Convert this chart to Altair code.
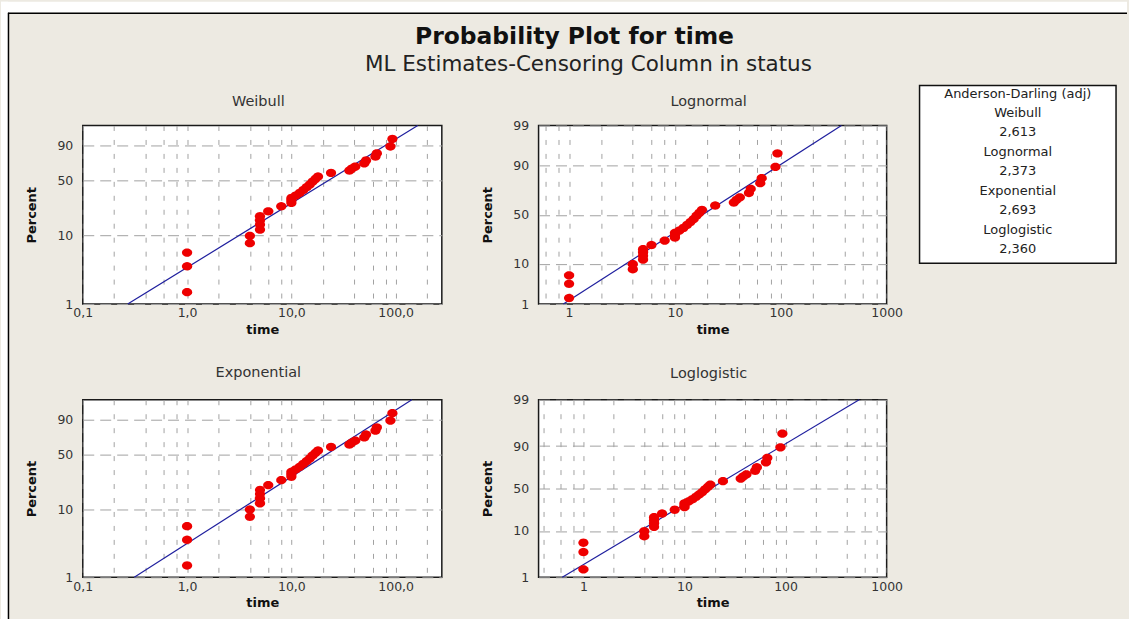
import math
from statistics import NormalDist

import altair as alt
import pandas as pd

# ---------------------------------------------------------------- data
# observed failure times and their plotting positions (percent)
time = [1, 1, 1, 4, 4, 5, 5, 5, 5, 6, 8, 10, 10, 10, 11, 12, 13, 14, 15, 16,
        17, 18, 24, 36, 38, 41, 50, 52, 64, 66, 89, 93]
percent = [1.5, 3.6, 5.7, 7.8, 9.9, 12.1, 14.2, 16.3, 18.5, 21.5, 25.0, 27.6,
           29.7, 31.8, 34.0, 36.5, 39.5, 42.5, 45.5, 49.0, 52.0, 55.0, 59.5,
           62.5, 65.0, 67.5, 71.5, 75.0, 79.5, 83.0, 89.4, 94.5]

dist_names = ["Weibull", "Lognormal", "Exponential", "Loglogistic"]
ad_values = [2.613, 2.373, 2.693, 2.360]

# ML estimates behind the fitted lines
weibull_fit = {"shape": 0.957, "scale": 33.0}
lognormal_fit = {"loc": 2.90, "scale": 1.30}
exponential_fit = {"mean": 31.0}
loglogistic_fit = {"loc": 2.90, "scale": 0.736}
fit_percent = [1, 99]

# axis labels
weib_x_labels = {0.1: "0,1", 1: "1,0", 10: "10,0", 100: "100,0"}
log_x_labels = {1: "1", 10: "10", 100: "100", 1000: "1000"}
grid_steps = [1, 2, 4, 6, 8]
sev_y_ticks = [1, 10, 50, 90]
sym_y_ticks = [1, 10, 50, 90, 99]

# ---------------------------------------------------------------- style
FONT = "DejaVu Sans"
BEIGE = "#EDEAE2"
RED = "#EE0000"
BLUE = "#1F1F9E"
GRID = "#A2A2A2"
OX, OY = 82, 124          # top-left corner of the first plot area
W_LEFT, W_RIGHT, ROW_H = 360, 349, 179

ND = NormalDist()
FORWARD = {
    "sev": lambda q: math.log(-math.log(1 - q)),
    "normal": ND.inv_cdf,
    "logistic": lambda q: math.log(q / (1 - q)),
}

# slightly wide oval marker
ELLIPSE = "M" + " L".join(
    f"{math.cos(2 * math.pi * i / 24):.4f},{0.82 * math.sin(2 * math.pi * i / 24):.4f}"
    for i in range(24)) + " Z"

ONE = pd.DataFrame({"k": [0]})


def grid_values(lo, hi):
    vals = []
    for k in range(-2, 4):
        for m in grid_steps:
            v = round(m * 10 ** k, 6)
            if lo - 1e-9 <= v <= hi + 1e-9:
                vals.append(v)
    return vals


def label_expr(pairs):
    parts = [f"abs(datum.value - ({v!r})) < 1e-6 ? '{s}'" for v, s in pairs]
    return " : ".join(parts) + " : ''"


def fit_times(kind):
    qs = [p / 100 for p in fit_percent]
    if kind == "Weibull":
        return [weibull_fit["scale"] * (-math.log(1 - q)) ** (1 / weibull_fit["shape"]) for q in qs]
    if kind == "Exponential":
        return [exponential_fit["mean"] * (-math.log(1 - q)) for q in qs]
    if kind == "Lognormal":
        return [math.exp(lognormal_fit["loc"] + lognormal_fit["scale"] * ND.inv_cdf(q)) for q in qs]
    return [math.exp(loglogistic_fit["loc"] + loglogistic_fit["scale"] * math.log(q / (1 - q))) for q in qs]


def text_at(x, y, txt, **kw):
    return alt.Chart(ONE).mark_text(font=FONT, **kw).encode(
        x=alt.value(x), y=alt.value(y), text=alt.value(txt))


def panel(name, scale_kind, x_domain, x_labels, y_ticks, width, height, title_dy):
    fwd = FORWARD[scale_kind]
    pts = pd.DataFrame({"time": time, "percent": percent})
    pts["y"] = [fwd(p / 100) for p in percent]
    line = pd.DataFrame({"time": fit_times(name), "percent": fit_percent})
    line["y"] = [fwd(p / 100) for p in fit_percent]

    y_pos = [fwd(p / 100) for p in y_ticks]
    x_axis = alt.Axis(
        values=grid_values(*x_domain),
        labelExpr=label_expr(list(x_labels.items())),
        grid=True, gridDash=[5, 9], gridColor=GRID, gridWidth=1,
        ticks=False, domain=False, labelFlush=False, labelOverlap=False,
        labelPadding=3, title="time", titlePadding=4,
    )
    y_axis = alt.Axis(
        values=y_pos,
        labelExpr=label_expr(list(zip(y_pos, [str(p) for p in y_ticks]))),
        grid=True, gridDash=[11, 6], gridColor=GRID, gridWidth=1,
        ticks=False, domain=False, labelFlush=False, labelOverlap=False,
        labelPadding=10, title="Percent", titlePadding=18,
    )
    x_enc = alt.X("time:Q", scale=alt.Scale(type="log", domain=list(x_domain), nice=False), axis=x_axis)
    y_enc = alt.Y("y:Q", scale=alt.Scale(domain=[fwd(0.01), fwd(0.99)], nice=False, zero=False), axis=y_axis)

    fit = alt.Chart(line).mark_line(color=BLUE, strokeWidth=1.2).encode(x=x_enc, y=y_enc)
    dots = alt.Chart(pts).mark_point(shape=ELLIPSE, filled=True, size=105, color=RED,
                                     opacity=1).encode(x=x_enc, y=y_enc)
    head = text_at(width / 2 - 4, title_dy, name, fontSize=14.5, color="#333333",
                   align="center", baseline="middle")
    return [fit, dots, head]


# ---------------------------------------------------------------- page furniture
def rect_abs(x, x2, y, y2, **kw):
    return alt.Chart(ONE).mark_rect(**kw).encode(
        x=alt.value(x - OX), x2=alt.value(x2 - OX), y=alt.value(y - OY), y2=alt.value(y2 - OY))


def rule_abs(x, x2, y, y2):
    return alt.Chart(ONE).mark_rule(color="#000000", strokeWidth=1.5).encode(
        x=alt.value(x - OX), x2=alt.value(x2 - OX), y=alt.value(y - OY), y2=alt.value(y2 - OY))


furniture = [
    rect_abs(0, 1129, 0, 11, color="white"),
    rect_abs(0, 7, 0, 619, color="white"),
    rule_abs(7, 1129, 11.5, 11.5),
    rule_abs(7.5, 7.5, 11, 619),
    text_at(575 - OX, 35 - OY, "Probability Plot for time", fontSize=23.5,
            fontWeight="bold", color="#111111", align="center", baseline="middle"),
    text_at(589 - OX, 63 - OY, "ML Estimates-Censoring Column in status", fontSize=21.5,
            color="#222222", align="center", baseline="middle"),
    rect_abs(921, 1118, 84, 262, color="white", stroke="#111111", strokeWidth=1.5),
]
legend_lines = ["Anderson-Darling (adj)"]
for nm, v in zip(dist_names, ad_values):
    legend_lines += [nm, f"{v:.3f}".replace(".", ",")]
for i, line_txt in enumerate(legend_lines):
    furniture.append(text_at(1019.5 - OX, 92 + 19.5 * i - OY, line_txt, fontSize=13,
                             color="#222222", align="center", baseline="middle"))

weib = alt.layer(*panel("Weibull", "sev", (0.1, 277), weib_x_labels, sev_y_ticks,
                        W_LEFT, ROW_H, -24), *furniture).properties(width=W_LEFT, height=ROW_H)
logn = alt.layer(*panel("Lognormal", "normal", (0.515, 1000), log_x_labels, sym_y_ticks,
                        W_RIGHT, ROW_H, -24)).properties(width=W_RIGHT, height=ROW_H)
expo = alt.layer(*panel("Exponential", "sev", (0.1, 277), weib_x_labels, sev_y_ticks,
                        W_LEFT, ROW_H - 1, -27)).properties(width=W_LEFT, height=ROW_H - 1)
logl = alt.layer(*panel("Loglogistic", "logistic", (0.36, 1000), log_x_labels, sym_y_ticks,
                        W_RIGHT, ROW_H - 1, -26)).properties(width=W_RIGHT, height=ROW_H - 1)

chart = alt.concat(
    weib, logn, expo, logl, columns=2, spacing={"row": 96, "column": 97}, bounds="flush"
).properties(
    background=BEIGE, padding=0
).configure_view(
    stroke="#1A1A1A", strokeWidth=1.5, fill="white"
).configure_axis(
    labelFont=FONT, labelFontSize=12.5, labelColor="#333333",
    titleFont=FONT, titleFontSize=13, titleFontWeight="bold", titleColor="#111111",
)

chart.save("out.html", embed_options={"renderer": "svg", "actions": False})
